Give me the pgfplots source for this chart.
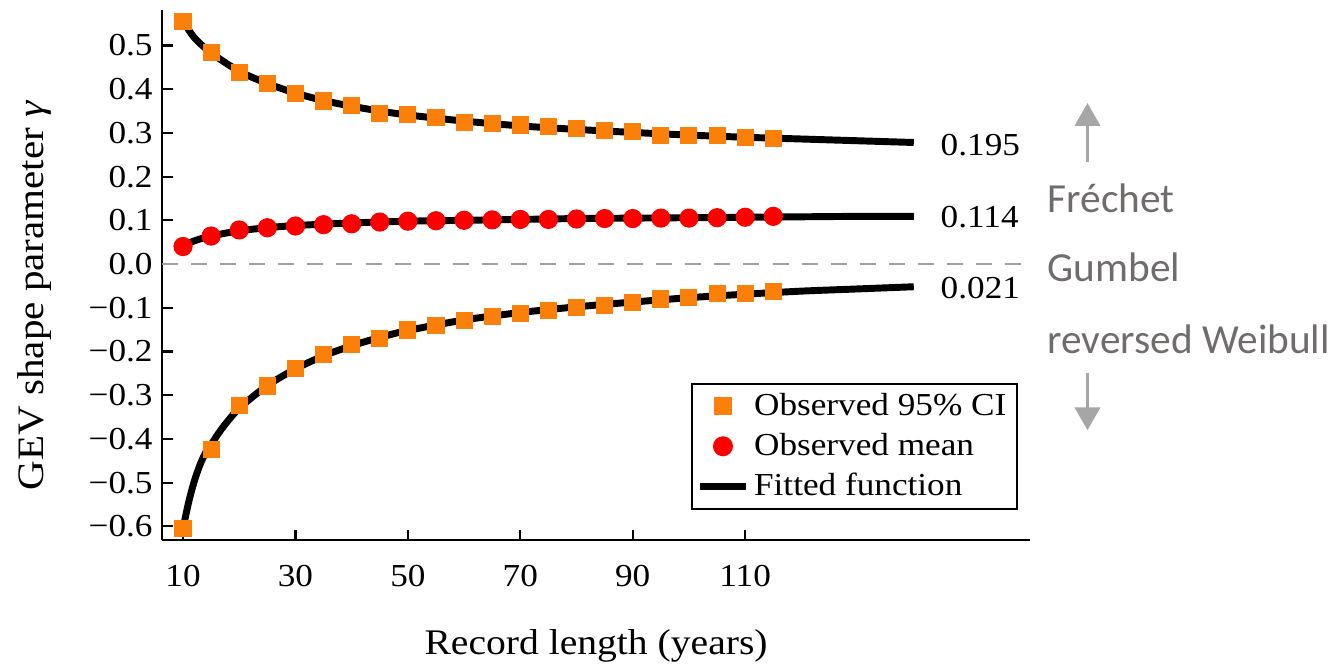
\documentclass[border=0pt]{standalone}
\usepackage{pgfplots}
\pgfplotsset{compat=1.18}
\usepackage{fontspec}
\usetikzlibrary{arrows.meta}
\setmainfont{Liberation Serif}[FakeStretch=1.1]
\newfontfamily\carlito{Carlito}
\definecolor{cior}{RGB}{250,128,10}
\definecolor{annot}{RGB}{112,108,108}
\definecolor{arrowgray}{RGB}{166,166,166}
\definecolor{zerogray}{RGB}{160,160,160}
\begin{document}
\begin{tikzpicture}
\begin{axis}[
  scale only axis,
  width=325.5pt, height=198.8pt,
  xmin=6.26, xmax=160.7, ymin=-0.632, ymax=0.581,
  axis x line*=bottom, axis y line*=left,
  axis line style={line width=0.8pt},
  tick style={line width=0.8pt, black},
  tick align=inside,
  major tick length=4pt,
  xtick={10,30,50,70,90,110},
  xticklabels={\textrm{10},\textrm{30},\textrm{50},\textrm{70},\textrm{90},\textrm{110}},
  ytick={-0.6,-0.5,-0.4,-0.3,-0.2,-0.1,0,0.1,0.2,0.3,0.4,0.5},
  yticklabels={\textrm{−0.6},\textrm{−0.5},\textrm{−0.4},\textrm{−0.3},\textrm{−0.2},\textrm{−0.1},\textrm{0.0},\textrm{0.1},\textrm{0.2},\textrm{0.3},\textrm{0.4},\textrm{0.5}},
  ticklabel style={font=\rmfamily\fontsize{12}{14}\selectfont},
  xticklabel style={yshift=-6pt},
  xlabel={Record length (years)},
  ylabel={GEV shape parameter \textit{γ}},
  xlabel style={font=\fontsize{13.5}{16}\selectfont, at={([yshift=-43pt]axis description cs:0.5,0)}, anchor=base},
  ylabel style={font=\fontsize{14}{16}\selectfont, at={([xshift=-44.6pt]axis description cs:0,0.462)}, anchor=base, rotate=0},
  clip=false,
  legend image code/.code={\draw[mark repeat=2,mark phase=2,#1] plot coordinates {(0cm,0cm) (0.3cm,0cm) (0.6cm,0cm)};},
  legend style={at={(rel axis cs:0.986,0.057)}, anchor=south east, draw=black, line width=0.7pt,
    font=\fontsize{12}{14}\selectfont, cells={anchor=west}, row sep=1.2pt, inner xsep=2pt, inner ysep=1.5pt},
]
% bounding area
\path (axis cs:-22.56,0.604) rectangle (axis cs:214.4,-0.920);
% zero line
\addplot[zerogray, line width=0.75pt, dash pattern=on 6pt off 4.9pt, forget plot] coordinates {(6.26,0) (160.7,0)};
% fitted functions
\addplot[black, line width=2.6pt, smooth, forget plot] coordinates {
(10,0.556) (12,0.518) (15,0.483) (20,0.441) (25,0.413) (30,0.391) (35,0.374) (40,0.361) (45,0.350) (50,0.341) (60,0.327) (70,0.316) (80,0.308) (90,0.301) (100,0.295) (110,0.290) (120,0.286) (130,0.282) (140,0.278)};
\addplot[black, line width=2.6pt, smooth, forget plot] coordinates {
(10,0.041) (12,0.053) (15,0.064) (20,0.076) (25,0.083) (30,0.088) (40,0.094) (50,0.098) (60,0.100) (70,0.102) (80,0.104) (90,0.105) (100,0.106) (110,0.107) (120,0.108) (130,0.109) (140,0.109)};
\addplot[black, line width=2.6pt, smooth, forget plot] coordinates {
(10,-0.605) (11,-0.545) (12,-0.497) (13,-0.460) (14,-0.432) (15,-0.413) (17,-0.375) (20,-0.330) (25,-0.278) (30,-0.240) (35,-0.210) (40,-0.187) (45,-0.168) (50,-0.152) (60,-0.128) (70,-0.111) (80,-0.098) (90,-0.087) (100,-0.077) (110,-0.069) (120,-0.062) (130,-0.057) (140,-0.052)};
% upper CI
\addplot[only marks, mark=square*, mark size=3pt, mark options={fill=cior, draw=cior}] coordinates {
(10,0.554) (15,0.484) (20,0.439) (25,0.413) (30,0.391) (35,0.373) (40,0.362) (45,0.345) (50,0.341) (55,0.335) (60,0.324) (65,0.321) (70,0.318) (75,0.314) (80,0.310) (85,0.305) (90,0.304) (95,0.295) (100,0.295) (105,0.293) (110,0.289) (115,0.287)};
\addlegendentry{Observed 95\% CI}
\addplot[only marks, mark=square*, mark size=3pt, mark options={fill=cior, draw=cior}, forget plot] coordinates {
(10,-0.605) (15,-0.424) (20,-0.323) (25,-0.279) (30,-0.240) (35,-0.208) (40,-0.185) (45,-0.171) (50,-0.151) (55,-0.140) (60,-0.130) (65,-0.120) (70,-0.114) (75,-0.107) (80,-0.099) (85,-0.094) (90,-0.087) (95,-0.080) (100,-0.076) (105,-0.067) (110,-0.068) (115,-0.062)};
% mean
\addplot[only marks, mark=*, mark size=3.4pt, mark options={fill=red, draw=red}] coordinates {
(10,0.040) (15,0.064) (20,0.078) (25,0.083) (30,0.087) (35,0.090) (40,0.092) (45,0.096) (50,0.098) (55,0.099) (60,0.100) (65,0.101) (70,0.102) (75,0.102) (80,0.103) (85,0.104) (90,0.104) (95,0.105) (100,0.105) (105,0.106) (110,0.107) (115,0.109)};
\addlegendentry{Observed mean}
\addlegendimage{black, line width=2.3pt}
\addlegendentry{Fitted function}
% end labels
\node[anchor=west, inner sep=0pt, font=\fontsize{12}{14}\selectfont] at (axis cs:144.7,0.272) {0.195};
\node[anchor=west, inner sep=0pt, font=\fontsize{12}{14}\selectfont] at (axis cs:144.7,0.108) {0.114};
\node[anchor=west, inner sep=0pt, font=\fontsize{12}{14}\selectfont] at (axis cs:144.7,-0.055) {0.021};
% annotations
\node[anchor=base west, inner sep=0pt, text=annot, font=\carlito\fontsize{15.5}{18}\selectfont] at (axis cs:163.7,0.119) {Fréchet};
\node[anchor=base west, inner sep=0pt, text=annot, font=\carlito\fontsize{15.5}{18}\selectfont] at (axis cs:163.7,-0.041) {Gumbel};
\node[anchor=base west, inner sep=0pt, text=annot, font=\carlito\fontsize{15.5}{18}\selectfont] at (axis cs:163.7,-0.204) {reversed Weibull};
\draw[arrowgray, line width=1.1pt, -{Triangle[width=9.5pt,length=8.5pt]}] (axis cs:170.9,0.233) -- (axis cs:170.9,0.368);
\draw[arrowgray, line width=1.1pt, -{Triangle[width=9.5pt,length=8.5pt]}] (axis cs:170.9,-0.249) -- (axis cs:170.9,-0.380);
\end{axis}
\end{tikzpicture}
\end{document}
